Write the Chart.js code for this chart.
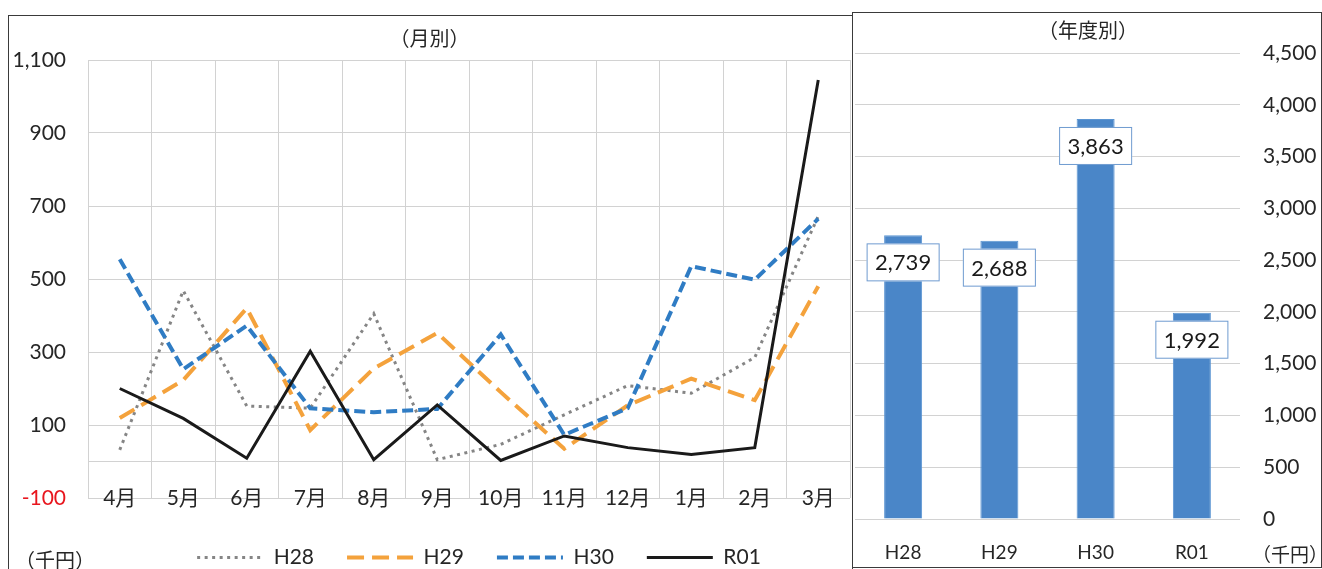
<!DOCTYPE html>
<html>
<head>
<meta charset="utf-8">
<script src="https://cdn.jsdelivr.net/npm/chart.js"></script>
<style>
  html, body { margin: 0; padding: 0; background: #fff; width: 1322px; height: 569px; overflow: hidden; position: relative; }
  .box { position: absolute; border: 1px solid #3a3a3a; box-sizing: border-box; }
  canvas { position: absolute; }
  .unit { position: absolute; font-family: Lato, 'Noto Sans CJK JP', sans-serif; color: #262626; white-space: nowrap; }
</style>
</head>
<body>
<div class="box" style="left:8px; top:15px; width:845px; height:620px;"></div>
<div class="box" style="left:852px; top:12px; width:470px; height:556px;"></div>
<canvas id="monthly" width="842" height="562" style="left:9px; top:16px;"></canvas>
<canvas id="yearly" width="468" height="554" style="left:853px; top:13px;"></canvas>
<div class="unit" style="left:15px; top:545px; font-size:20px;">（千円）</div>
<div class="unit" style="left:1252px; top:540px; font-size:19px;">（千円）</div>
<script>
// ---- data ----
const months = ['4月','5月','6月','7月','8月','9月','10月','11月','12月','1月','2月','3月'];
const H28 = [32, 468, 152, 146, 405, 5, 47, 128, 208, 187, 285, 672];
const H29 = [119, 223, 420, 86, 255, 352, 190, 35, 154, 227, 168, 480];
const H30 = [554, 253, 372, 146, 135, 144, 348, 73, 146, 535, 498, 665];
const R01 = [200, 118, 9, 302, 5, 155, 3, 70, 38, 19, 38, 1045];
const monthlyTicks = [-100, 0, 100, 300, 500, 700, 900, 1100];

const fiscalYears = ['H28', 'H29', 'H30', 'R01'];
const yearlyTotals = [2739, 2688, 3863, 1992];
const yearlyTicks = [0, 500, 1000, 1500, 2000, 2500, 3000, 3500, 4000, 4500];

// ---- styles ----
const FONT = "Lato, 'Noto Sans CJK JP', sans-serif";
Chart.defaults.font.family = FONT;
Chart.defaults.color = '#262626';
const GRID = '#d2d2d2';
const fmt = v => Number(v).toLocaleString('en-US');

const legendShift = {
  id: 'legendShift',
  afterLayout(chart) {
    if (chart.legend) { chart.legend.left += 10; chart.legend.right += 10; }
  }
};

new Chart(document.getElementById('monthly'), {
  type: 'line',
  data: {
    labels: months,
    datasets: [
      { label: 'H28', data: H28, borderColor: '#858585', borderWidth: 3, borderDash: [3, 4.5], order: 3 },
      { label: 'H29', data: H29, borderColor: '#f4a23c', borderWidth: 4, borderDash: [17, 8], order: 2 },
      { label: 'H30', data: H30, borderColor: '#2f7cc4', borderWidth: 4, borderDash: [11, 5], order: 1 },
      { label: 'R01', data: R01, borderColor: '#1a1a1a', borderWidth: 3, order: 0 }
    ]
  },
  plugins: [legendShift],
  options: {
    responsive: false,
    animation: false,
    layout: { padding: { left: 0, right: 1, top: 0, bottom: 0 } },
    elements: { point: { radius: 0, hoverRadius: 0 }, line: { tension: 0, fill: false } },
    plugins: {
      tooltip: { enabled: false },
      title: {
        display: true, text: '（月別）', color: '#262626',
        font: { size: 20, weight: 'normal' },
        padding: { top: 12, bottom: 8 }
      },
      legend: {
        position: 'bottom',
        fullSize: false,
        labels: {
          usePointStyle: true, pointStyle: 'line', pointStyleWidth: 66,
          boxHeight: 20,
          padding: 33,
          font: { size: 21 },
          color: '#262626',
          sort: (a, b) => a.datasetIndex - b.datasetIndex,
          generateLabels: chart => Chart.defaults.plugins.legend.labels.generateLabels(chart).map(item => {
            const ds = chart.data.datasets[item.datasetIndex];
            item.lineDash = ds.borderDash || [];
            item.lineWidth = ds.borderWidth;
            item.strokeStyle = ds.borderColor;
            item.pointStyle = 'line';
            return item;
          })
        }
      }
    },
    scales: {
      x: {
        offset: true,
        grid: { offset: true, color: GRID, drawTicks: false },
        border: { display: false },
        ticks: { mirror: true, padding: -13, font: { size: 21 }, color: '#262626', maxRotation: 0, autoSkip: false },
        afterFit: s => { s.height = 16; }
      },
      y: {
        min: -100, max: 1100,
        afterBuildTicks: axis => { axis.ticks = monthlyTicks.map(v => ({ value: v })); },
        grid: { color: GRID, drawTicks: false },
        border: { display: false },
        ticks: {
          padding: 22,
          font: { size: 21 },
          color: c => (c.tick && c.tick.value < 0) ? '#e8161e' : '#262626',
          callback: v => v === 0 ? '' : fmt(v)
        },
        afterFit: s => { s.width = 79; }
      }
    }
  }
});

const barLabels = {
  id: 'barLabels',
  afterDatasetsDraw(chart) {
    const ctx = chart.ctx;
    const meta = chart.getDatasetMeta(0);
    const ds = chart.data.datasets[0];
    ctx.save();
    ctx.font = '22px ' + FONT;
    ctx.textAlign = 'center';
    ctx.textBaseline = 'middle';
    meta.data.forEach((el, i) => {
      const text = fmt(ds.data[i]);
      const w = ctx.measureText(text).width + 17;
      const h = 38;
      const x = el.x - w / 2;
      const y = el.y + 8;
      ctx.fillStyle = '#ffffff';
      ctx.fillRect(x, y, w, h);
      ctx.strokeStyle = '#6f9bd0';
      ctx.lineWidth = 1;
      ctx.strokeRect(x + 0.5, y + 0.5, w - 1, h - 1);
      ctx.fillStyle = '#1a1a1a';
      ctx.fillText(text, el.x, y + h / 2 + 1);
    });
    ctx.restore();
  }
};

new Chart(document.getElementById('yearly'), {
  type: 'bar',
  data: {
    labels: fiscalYears,
    datasets: [{ label: '年度別', data: yearlyTotals, backgroundColor: '#4a86c8', borderColor: '#5b95d2', borderWidth: 1, categoryPercentage: 1, barPercentage: 0.395 }]
  },
  plugins: [barLabels],
  options: {
    responsive: false,
    animation: false,
    layout: { padding: { left: 2, right: 0, top: 0, bottom: 0 } },
    plugins: {
      tooltip: { enabled: false },
      legend: { display: false },
      title: {
        display: true, text: '（年度別）', color: '#262626',
        font: { size: 20, weight: 'normal' },
        padding: { top: 7, bottom: 9 }
      }
    },
    scales: {
      x: {
        grid: { display: false, drawTicks: false },
        border: { display: false },
        ticks: { padding: 22, font: { size: 19 }, color: '#262626' },
        afterFit: s => { s.height = 48; }
      },
      y: {
        position: 'right',
        min: 0, max: 4500,
        afterBuildTicks: axis => { axis.ticks = yearlyTicks.map(v => ({ value: v })); },
        grid: { color: GRID, drawTicks: false },
        border: { display: false },
        ticks: { padding: 23, font: { size: 21 }, color: '#262626', callback: v => fmt(v) },
        afterFit: s => { s.width = 81; }
      }
    }
  }
});
</script>
</body>
</html>
